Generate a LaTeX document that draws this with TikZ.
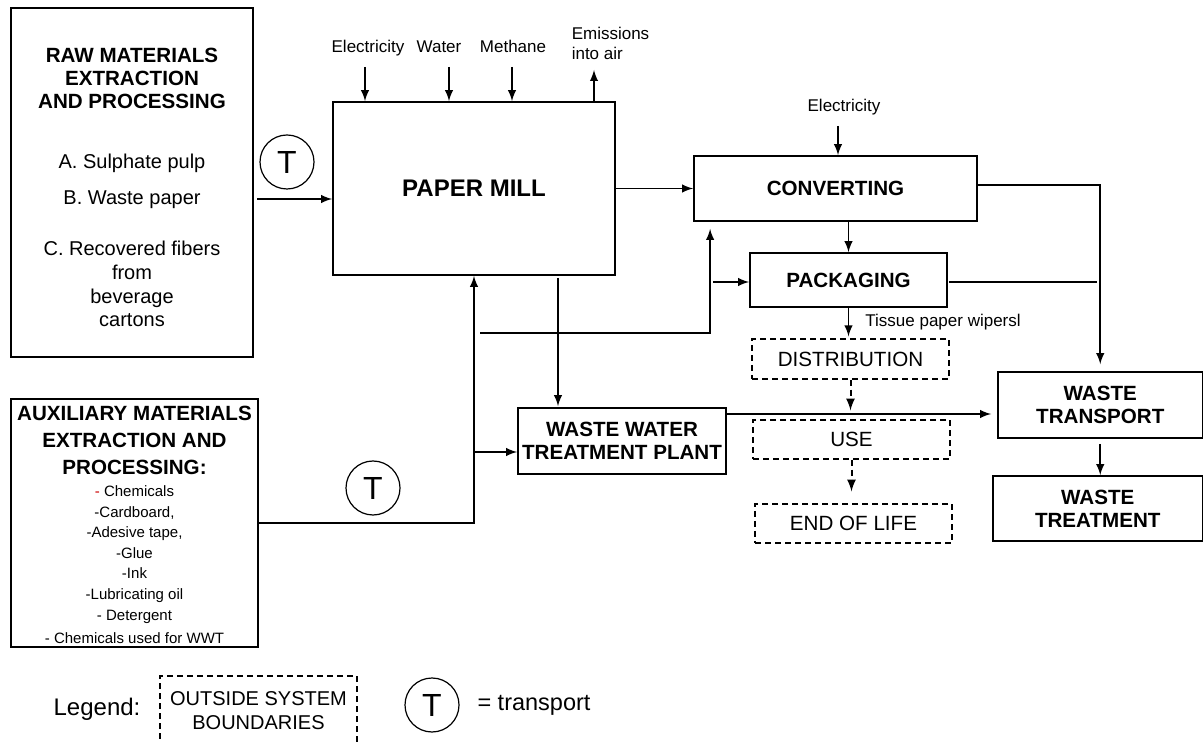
\documentclass[tikz,border=0pt]{standalone}
\usepackage{fontspec}
\setmainfont{Liberation Sans}
\usetikzlibrary{arrows, calc, positioning}

\begin{document}
\begin{tikzpicture}[>=latex, x=0.5pt, y=-0.5pt, line width=0.9pt, inner sep=0pt,
    box/.style={draw, align=center, font=\fontsize{10.3}{11.5}\selectfont\bfseries},
    outside/.style={draw, dash pattern=on 3pt off 2pt, line width=0.65pt, align=center, minimum width=98.5pt, font=\fontsize{10.3}{12}\selectfont},
    lbl/.style={font=\fontsize{8.5}{10}\selectfont},
    tick/.style={lbl, text height=6.2pt, text depth=1.8pt},
    tcirc/.style={draw, circle, line width=0.6pt, minimum size=27pt, font=\fontsize{16}{16}\selectfont}]

\fill[white] (0,0) rectangle (1204,742);
\useasboundingbox (0,0) rectangle (1204,742);

\node[box, align=flush center, text width=121pt, minimum height=174.5pt] (raw) at (132,182.5)
    {\rule{0pt}{12.5pt}RAW MATERIALS\\EXTRACTION\\AND PROCESSING\\[18pt]
     \mdseries\fontsize{10}{12}\selectfont A. Sulphate pulp\\[6pt]B. Waste paper\\[13.5pt]C. Recovered fibers\\from\\beverage\\cartons};
\node[box, align=flush center, text width=123.5pt, minimum height=124pt] (aux) at (134.5,523)
    {\rule{0pt}{9pt}AUXILIARY MATERIALS\\[2pt]EXTRACTION AND\\[2pt]PROCESSING:\\[0.5pt]
     \mdseries\fontsize{7.5}{10.3}\selectfont{\color{red!80!black}-} Chemicals\\-Cardboard,\\-Adesive tape,\\-Glue\\-Ink\\-Lubricating oil\\- Detergent\\- Chemicals used for WWT};

\node[box, font=\fontsize{12}{14}\selectfont\bfseries, minimum width=141pt, minimum height=86.5pt] (mill) at (474,188.5) {PAPER MILL};
\node[box, minimum width=141.5pt, minimum height=32.5pt] (conv) at (835.5,188.5) {CONVERTING};
\node[box, minimum width=98.5pt, minimum height=27pt] (pack) at (848.5,280) {PACKAGING};
\node[box, minimum width=104pt, minimum height=33pt] (wwtp) at (622,441) {WASTE WATER\\TREATMENT PLANT};
\node[box, minimum width=102.25pt, minimum height=33pt] (wt) at (1100.25,405) {WASTE\\TRANSPORT};
\node[box, minimum width=104.75pt, minimum height=32.5pt] (wtr) at (1097.75,508.5) {WASTE\\TREATMENT};

\node[outside, minimum height=20pt] (dist) at (850.5,359) {DISTRIBUTION};
\node[outside, minimum height=19.5pt] (use) at (851.5,439.5) {USE};
\node[outside, minimum height=19.5pt] (end) at (853.5,523.5) {END OF LIFE};

\node[tcirc] (t1) at (287,162) {T};
\node[tcirc] (t2) at (373,488) {T};

\coordinate (rawout) at (257,199);
\coordinate (elecin) at (365,67);
\coordinate (waterin) at (449,67);
\coordinate (methin) at (512,67);
\coordinate (emiout) at (594,70);
\coordinate (elec2in) at (838,126);
\coordinate (wwdrop) at (558,278);
\coordinate (wwin) at (474,452);
\coordinate (feed) at (480,333);
\coordinate (packin) at (713,282);
\coordinate (convout) at (978,185);
\coordinate (packout) at (949,282);
\coordinate (wwout) at (726,414);

\node[tick, above=5pt of elecin, xshift=1.5pt] (elec) {Electricity};
\node[tick, above=5pt of waterin, xshift=-5pt] (water) {Water};
\node[tick, above=5pt of methin, xshift=0.5pt] (meth) {Methane};
\node[lbl, align=left, above=4.5pt of emiout, xshift=8.25pt] (emi) {Emissions\\into air};
\node[tick, above=5pt of elec2in, xshift=3pt] (elec2) {Electricity};
\node[lbl, below right=2.5pt and 8pt of pack.south] (tissue) {Tissue paper wipersl};

\draw[->] (rawout) -- (rawout -| mill.west);
\draw[->] (elecin) -- (elecin |- mill.north);
\draw[->] (waterin) -- (waterin |- mill.north);
\draw[->] (methin) -- (methin |- mill.north);
\draw[->] (emiout |- mill.north) -- (emiout);
\draw[->] (mill.east) -- (conv.west);
\draw[->] (elec2in) -- (elec2in |- conv.north);
\draw[->] (pack.north |- conv.south) -- (pack.north);
\draw[->, shorten >=1pt] (pack.south) -- (pack.south |- dist.north);
\draw[->, line width=1pt, dash pattern=on 3pt off 2pt, shorten >=4.5pt] (dist.south) -- (dist.south |- use.north);
\draw[->, line width=1pt, dash pattern=on 3pt off 2pt, shorten >=6pt] (use.south) -- (use.south |- end.north);
\draw[->, shorten >=0.5pt] (wwdrop) -- (wwdrop |- wwtp.north);
\draw[->] (aux.east) -| (mill.south);
\draw[->] (wwin) -- (wwin -| wwtp.west);
\draw[->] (feed) -| ($(conv.south west)+(8.5pt,-3.5pt)$);
\draw[->] (packin) -- (packin -| pack.west);
\draw[->] (convout) -| ($(wt.north)+(0,3.5pt)$);
\draw[shorten >=1.5pt] (packout) -- (packout -| wt.north);
\draw[->, shorten >=3pt] (wwout) -- (wwout -| wt.west);
\draw[->, shorten <=2.5pt] (wt.south) -- (wt.south |- wtr.north);

\node[font=\fontsize{12}{14}\selectfont] (legend) at (97,709) {Legend:};
\node[outside, minimum height=34.5pt, font=\fontsize{10}{12}\selectfont] (outbox) at (258.5,710.5) {OUTSIDE SYSTEM\\BOUNDARIES};
\node[tcirc] (tlegend) at (432,705) {T};
\node[font=\fontsize{11.75}{14}\selectfont, right=8.5pt of tlegend] (tlabel) {= transport};

\end{tikzpicture}
\end{document}
